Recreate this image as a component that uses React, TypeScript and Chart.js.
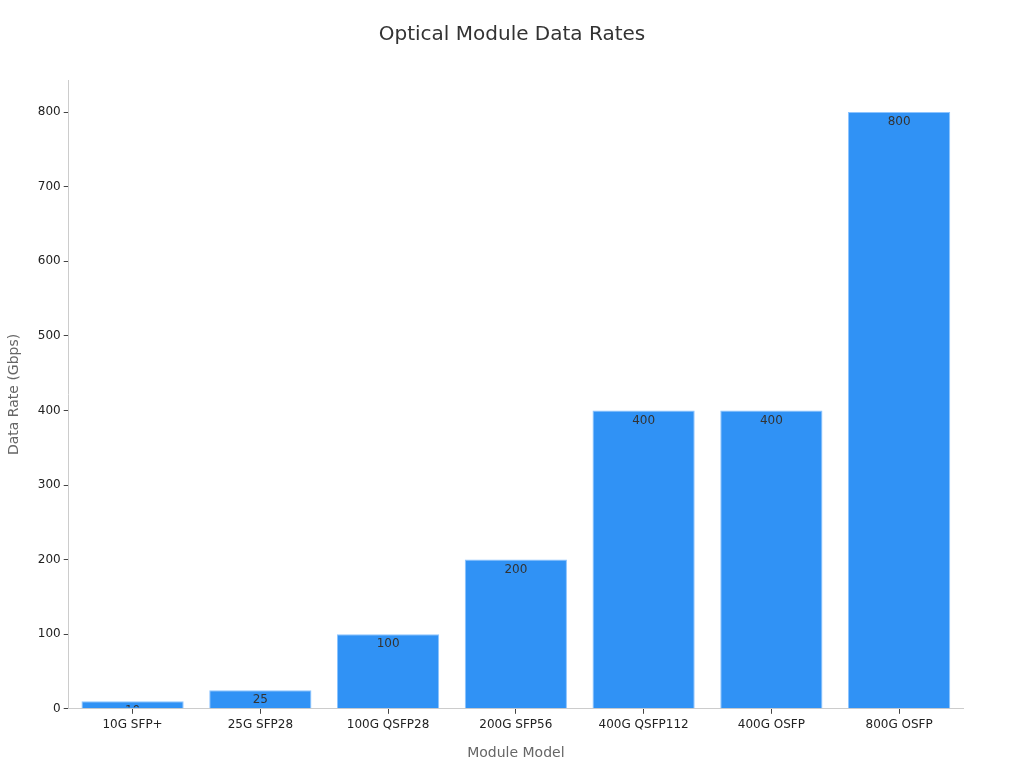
import React, { useEffect, useRef } from "react";
import { Chart, registerables } from "chart.js";

Chart.register(...registerables);

const categories = ["10G SFP+", "25G SFP28", "100G QSFP28", "200G SFP56", "400G QSFP112", "400G OSFP", "800G OSFP"];
const rates = [10, 25, 100, 200, 400, 400, 800];
const yTicks = [0, 100, 200, 300, 400, 500, 600, 700, 800];
const titleText = "Optical Module Data Rates";

const FONT = "'DejaVu Sans', sans-serif";

const labelPlugin = {
  id: "barLabels",
  afterDatasetsDraw(chart: any) {
    const ctx = chart.ctx;
    const meta = chart.getDatasetMeta(0);
    meta.data.forEach((bar: any, i: number) => {
      const { x, y, base, width } = bar.getProps(["x", "y", "base", "width"], true);
      ctx.save();
      ctx.beginPath();
      ctx.rect(x - width / 2, y, width, base - y - 1);
      ctx.clip();
      ctx.fillStyle = "#333333";
      ctx.font = `12px ${FONT}`;
      ctx.textAlign = "center";
      ctx.textBaseline = "middle";
      ctx.fillText(String(rates[i]), x, y + 10);
      ctx.restore();
    });
  },
};

const titlePlugin = {
  id: "centerTitle",
  afterDraw(chart: any) {
    const ctx = chart.ctx;
    ctx.save();
    ctx.fillStyle = "#333333";
    ctx.font = `20px ${FONT}`;
    ctx.textAlign = "center";
    ctx.textBaseline = "middle";
    ctx.fillText(titleText, chart.width / 2, 35);
    ctx.restore();
  },
};

export default function App() {
  const ref = useRef<HTMLCanvasElement>(null);
  useEffect(() => {
    document.body.style.margin = "0";
    const chart = new Chart(ref.current!, {
      type: "bar",
      data: {
        labels: categories,
        datasets: [
          {
            data: rates,
            backgroundColor: "#3092f5",
            borderColor: "#8cc4ff",
            borderWidth: 1,
            barPercentage: 0.8,
            categoryPercentage: 1,
          },
        ],
      },
      plugins: [labelPlugin, titlePlugin],
      options: {
        animation: false,
        responsive: false,
        layout: { padding: { left: 6, right: 61, top: 80, bottom: 6 } },
        plugins: {
          legend: { display: false },
          tooltip: { enabled: false },
          title: { display: false },
        },
        scales: {
          x: {
            grid: { display: true, offset: false, drawOnChartArea: false, drawTicks: true, tickLength: 5, color: "#444" },
            border: { display: true, color: "#cccccc" },
            ticks: { color: "#222", font: { family: FONT, size: 12 }, padding: 4 },
            title: {
              display: true,
              text: "Module Model",
              color: "#666",
              font: { family: FONT, size: 14 },
              padding: { top: 9, bottom: 0 },
            },
          },
          y: {
            min: 0,
            max: 843,
            afterBuildTicks(axis: any) {
              axis.ticks = yTicks.map((v) => ({ value: v }));
            },
            grid: { display: true, drawOnChartArea: false, drawTicks: true, tickLength: 5, color: "#444" },
            border: { display: true, color: "#cccccc" },
            ticks: { color: "#222", font: { family: FONT, size: 12 }, padding: 3 },
            title: {
              display: true,
              text: "Data Rate (Gbps)",
              color: "#666",
              font: { family: FONT, size: 14 },
              padding: { top: 0, bottom: 12 },
            },
          },
        },
      },
    });
    return () => chart.destroy();
  }, []);
  return (
    <div style={{ width: 1024, height: 768 }}>
      <canvas ref={ref} width={1024} height={768} style={{ display: "block" }} />
    </div>
  );
}
